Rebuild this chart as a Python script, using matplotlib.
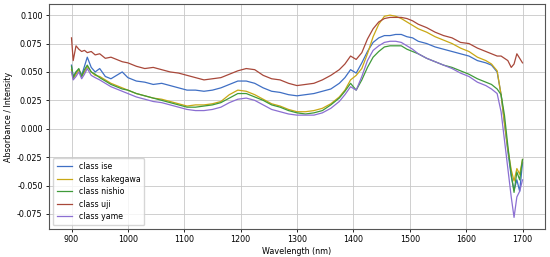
import matplotlib.pyplot as plt

wavelength = [900, 903, 908, 913, 918, 923, 928, 935, 942, 950, 960, 970, 980, 990,
              1000, 1015, 1030, 1045, 1060, 1075, 1090, 1105, 1120, 1135, 1150, 1165,
              1180, 1195, 1210, 1225, 1240, 1255, 1270, 1285, 1300, 1315, 1330, 1345,
              1360, 1375, 1385, 1395, 1405, 1415, 1425, 1435, 1445, 1455, 1465, 1475,
              1485, 1495, 1505, 1515, 1530, 1545, 1560, 1575, 1590, 1605, 1620, 1635,
              1645, 1655, 1662, 1668, 1674, 1680, 1685, 1690, 1695, 1700]

ise = [.056, .046, .050, .052, .047, .055, .063, .054, .050, .053, .046, .044, .047, .050,
       .045, .042, .041, .039, .040, .038, .036, .034, .034, .033, .034, .036,
       .039, .042, .042, .040, .036, .033, .032, .030, .029, .030, .031, .033,
       .035, .040, .045, .052, .049, .058, .068, .076, .080, .082, .082, .083,
       .083, .081, .080, .077, .075, .072, .070, .068, .066, .064, .060, .058,
       .056, .050, .030, .005, -.020, -.042, -.054, -.045, -.055, -.030]

kakegawa = [.052, .044, .048, .052, .046, .050, .055, .050, .047, .046, .043, .040, .038, .036,
            .034, .031, .029, .027, .026, .024, .022, .020, .021, .021, .022, .024,
            .030, .034, .033, .030, .026, .022, .020, .017, .015, .015, .016, .018,
            .022, .028, .034, .043, .047, .053, .066, .081, .092, .099, .100, .099,
            .097, .094, .091, .088, .085, .081, .078, .075, .071, .068, .063, .060,
            .057, .051, .030, .005, -.018, -.036, -.046, -.035, -.040, -.027]

nishio = [.055, .045, .050, .053, .046, .052, .056, .050, .048, .045, .042, .039, .037, .035,
          .034, .031, .029, .027, .025, .023, .021, .019, .019, .020, .021, .023,
          .027, .031, .031, .028, .025, .021, .019, .016, .014, .013, .014, .016,
          .021, .027, .033, .040, .034, .043, .054, .063, .068, .072, .073, .073,
          .073, .070, .068, .066, .062, .059, .056, .054, .051, .048, .044, .041,
          .039, .035, .030, .012, -.015, -.040, -.056, -.038, -.045, -.027]

uji = [.080, .060, .073, .070, .068, .069, .067, .068, .065, .066, .062, .063, .061, .059,
       .058, .055, .053, .054, .052, .050, .049, .047, .045, .043, .044, .045,
       .048, .051, .053, .052, .047, .044, .043, .040, .038, .039, .040, .043,
       .047, .052, .057, .064, .061, .067, .079, .088, .094, .097, .098, .098,
       .098, .097, .095, .092, .089, .085, .082, .080, .076, .075, .071, .068,
       .066, .064, .064, .062, .060, .054, .057, .066, .062, .058]

yame = [.050, .043, .046, .050, .044, .048, .053, .047, .045, .043, .040, .037, .035, .033,
        .031, .028, .026, .024, .023, .021, .019, .017, .016, .016, .017, .019,
        .023, .026, .027, .025, .021, .017, .015, .013, .012, .012, .012, .014,
        .018, .024, .030, .037, .034, .046, .060, .069, .073, .076, .077, .077,
        .076, .073, .070, .066, .062, .059, .056, .053, .049, .046, .041, .038,
        .035, .031, .015, -.010, -.035, -.060, -.078, -.060, -.055, -.045]

labels = ["class ise", "class kakegawa", "class nishio", "class uji", "class yame"]
colors = ["#3f6fc4", "#c9a814", "#3f9a3a", "#a8483a", "#8b6fd2"]

fig = plt.figure(figsize=(5.5, 2.57), dpi=100)
ax = fig.add_axes([0.089, 0.109, 0.902, 0.875])

for y, lab, c in zip([ise, kakegawa, nishio, uji, yame], labels, colors):
    ax.plot(wavelength, y, color=c, lw=0.9, label=lab)

ax.set_xlabel("Wavelength (nm)", fontsize=5.8, labelpad=2)
ax.set_ylabel("Absorbance / Intensity", fontsize=5.8, labelpad=3)
ax.set_xticks([900, 1000, 1100, 1200, 1300, 1400, 1500, 1600, 1700])
ax.set_yticks([-0.075, -0.05, -0.025, 0.0, 0.025, 0.05, 0.075, 0.1])
ax.yaxis.set_major_formatter(plt.FormatStrFormatter("%.3f"))
ax.tick_params(labelsize=5.8, length=2.5, width=0.6, pad=2)
ax.set_xlim(860, 1740)
ax.set_ylim(-0.0882, 0.1097)
ax.grid(True, color="#c8c8c8", lw=0.6)
for s in ax.spines.values():
    s.set_color("#555555")
    s.set_linewidth(0.8)

ax.legend(loc="lower left", fontsize=5.6, frameon=True, handlelength=2.0,
          borderpad=0.5, labelspacing=0.45, framealpha=0.8)

fig.savefig("out.png", dpi=100)
